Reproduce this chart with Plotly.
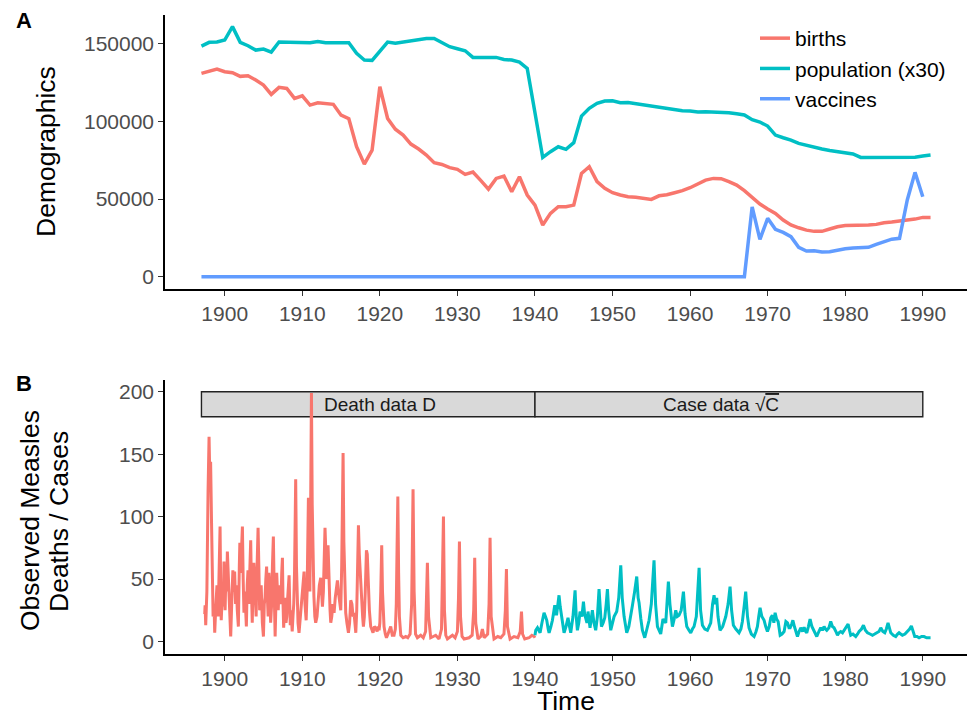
import plotly.graph_objects as go

# ---------------- Panel A data (annual) ----------------
years = list(range(1897, 1992))
births = [130.9, 132.4, 133.7, 132.0, 131.3, 129.0, 129.4, 126.6, 123.4, 117.4,
          121.9, 121.2, 114.8, 116.5, 110.5, 112.0, 111.6, 111.0, 104.0, 101.7,
          83.7, 72.5, 81.5, 122.3, 101.9, 95.0, 91.2, 85.4, 82.2, 78.3,
          73.4, 72.3, 70.2, 69.1, 65.9, 67.4, 62.0, 56.4, 63.3, 64.8,
          54.7, 64.4, 52.6, 46.1, 33.3, 40.8, 45.1, 45.1, 46.1, 66.5,
          70.8, 61.2, 56.9, 54.1, 52.6, 51.5, 51.1, 50.6, 49.8, 52.1,
          52.8, 54.1, 55.4, 57.3, 59.9, 62.2, 63.3, 63.1, 61.2, 59.0,
          55.4, 51.1, 46.8, 43.6, 40.8, 36.5, 33.3, 31.5, 30.0, 29.2,
          29.2, 30.7, 32.2, 33.0, 33.0, 33.0, 33.3, 33.7, 34.8, 35.2,
          35.8, 36.5, 37.1, 38.2, 38.2]
population_x30 = [148.5, 150.9, 151.1, 152.4, 161.0, 150.9, 148.7, 145.9, 146.6, 144.6,
                  151.1, 151.1, 151.1, 151.1, 150.6, 151.5, 150.6, 150.6, 150.6, 150.6,
                  143.8, 139.5, 139.3, 144.8, 151.1, 150.4, 151.1, 152.1, 152.6, 153.4,
                  153.4, 150.9, 148.1, 146.8, 145.5, 141.2, 141.2, 141.2, 141.2, 139.9,
                  139.5, 138.2, 134.1, 105.6, 76.8, 80.5, 83.7, 82.0, 86.3, 103.4,
                  108.4, 111.6, 113.1, 113.3, 112.0, 112.2, 111.4, 110.5, 109.7, 109.0,
                  108.2, 107.3, 106.9, 106.7, 106.0, 106.2, 106.0, 106.0, 105.6, 104.9,
                  104.1, 101.1, 99.6, 97.0, 91.2, 89.5, 88.0, 85.8, 84.5, 83.0,
                  82.2, 81.3, 80.5, 80.0, 79.0, 76.8, 76.8, 77.0, 77.3, 77.3,
                  77.0, 76.8, 77.0, 77.7, 78.3]
vacc_years = list(range(1897, 1991))
vaccines = [0.0] * 71 + [45.0, 24.0, 37.6, 30.5, 28.5, 25.8, 18.9, 16.5, 16.7, 15.9,
                         16.1, 17.2, 18.0, 18.5, 18.9, 18.9, 20.8, 22.7, 24.2, 24.7,
                         49.4, 67.2, 51.5]

# ---------------- Panel B data ----------------
death_obs = [
    (1897.42, 22), (1897.47, 29), (1897.55, 13), (1897.7, 40), (1897.85, 120), (1897.98, 164),
    (1898.08, 130), (1898.18, 144), (1898.3, 95), (1898.4, 60), (1898.5, 20), (1898.62, 30),
    (1898.71, 7), (1898.85, 28), (1899.0, 45), (1899.15, 20), (1899.28, 50), (1899.4, 92),
    (1899.5, 30), (1899.55, 17), (1899.7, 40), (1899.8, 28), (1899.91, 64), (1900.05, 25),
    (1900.15, 55), (1900.25, 40), (1900.34, 72), (1900.45, 50), (1900.55, 30), (1900.65, 15),
    (1900.77, 4), (1900.9, 30), (1901.05, 57), (1901.15, 40), (1901.28, 56), (1901.4, 30),
    (1901.5, 45), (1901.62, 25), (1901.76, 12), (1901.88, 60), (1901.95, 79), (1902.05, 55),
    (1902.18, 70), (1902.28, 92), (1902.38, 50), (1902.48, 23), (1902.6, 40), (1902.7, 30),
    (1902.79, 12), (1902.9, 45), (1903.0, 57), (1903.1, 30), (1903.22, 60), (1903.35, 81),
    (1903.45, 40), (1903.55, 15), (1903.65, 45), (1903.75, 63), (1903.85, 50), (1903.95, 35),
    (1904.05, 20), (1904.15, 55), (1904.3, 91), (1904.4, 60), (1904.5, 25), (1904.6, 35),
    (1904.7, 45), (1904.85, 15), (1904.99, 4), (1905.1, 30), (1905.2, 35), (1905.3, 50),
    (1905.4, 60), (1905.5, 35), (1905.6, 20), (1905.7, 55), (1905.8, 45), (1905.92, 15),
    (1906.05, 30), (1906.15, 60), (1906.27, 84), (1906.38, 40), (1906.5, 4), (1906.6, 30),
    (1906.7, 55), (1906.8, 40), (1906.9, 25), (1907.0, 45), (1907.1, 40), (1907.25, 30),
    (1907.35, 55), (1907.44, 67), (1907.52, 30), (1907.6, 11), (1907.7, 25), (1907.8, 35),
    (1907.9, 15), (1908.0, 20), (1908.12, 35), (1908.22, 45), (1908.3, 53), (1908.38, 30),
    (1908.45, 13), (1908.55, 25), (1908.62, 10), (1908.7, 8), (1908.8, 20), (1908.9, 30),
    (1909.0, 55), (1909.08, 90), (1909.15, 130), (1909.25, 60), (1909.35, 20), (1909.45, 15),
    (1909.58, 7), (1909.75, 20), (1909.95, 35), (1910.1, 45), (1910.23, 56), (1910.35, 30),
    (1910.5, 17), (1910.62, 40), (1910.72, 80), (1910.79, 115), (1910.88, 60), (1910.98, 40),
    (1911.08, 110), (1911.18, 199), (1911.28, 110), (1911.38, 60), (1911.5, 36), (1911.62, 20),
    (1911.73, 15), (1911.9, 20), (1912.05, 35), (1912.2, 45), (1912.38, 51), (1912.5, 40),
    (1912.6, 28), (1912.72, 40), (1912.85, 80), (1912.93, 91), (1913.05, 70), (1913.15, 50),
    (1913.32, 77), (1913.45, 45), (1913.58, 25), (1913.67, 15), (1913.8, 20), (1913.95, 30),
    (1914.1, 23), (1914.25, 35), (1914.4, 45), (1914.53, 49), (1914.65, 40), (1914.8, 30),
    (1914.96, 25), (1915.08, 60), (1915.18, 120), (1915.26, 151), (1915.36, 80), (1915.48, 35),
    (1915.6, 23), (1915.75, 15), (1915.95, 7), (1916.1, 15), (1916.25, 33), (1916.4, 30),
    (1916.55, 20), (1916.67, 23), (1916.8, 12), (1916.9, 7), (1917.02, 25), (1917.12, 60),
    (1917.24, 93), (1917.35, 70), (1917.45, 55), (1917.53, 44), (1917.65, 30), (1917.78, 20),
    (1917.88, 12), (1918.0, 20), (1918.12, 40), (1918.2, 60), (1918.27, 73), (1918.38, 70),
    (1918.53, 44), (1918.65, 25), (1918.82, 12), (1918.95, 10), (1919.12, 7), (1919.3, 12),
    (1919.47, 11), (1919.65, 8), (1919.8, 12), (1919.9, 9), (1920.0, 15), (1920.12, 40),
    (1920.24, 77), (1920.34, 40), (1920.44, 20), (1920.54, 12), (1920.7, 6), (1920.85, 3),
    (1921.05, 6), (1921.2, 8), (1921.4, 12), (1921.6, 5), (1921.83, 5), (1922.0, 10),
    (1922.12, 30), (1922.22, 75), (1922.32, 116), (1922.42, 55), (1922.52, 20), (1922.7, 5),
    (1923.0, 3), (1923.34, 4), (1923.6, 3), (1923.9, 6), (1924.1, 30), (1924.28, 122),
    (1924.42, 40), (1924.6, 6), (1924.84, 3), (1925.27, 5), (1925.6, 3), (1925.9, 8),
    (1926.0, 25), (1926.13, 63), (1926.28, 20), (1926.56, 3), (1927.2, 5), (1927.63, 2),
    (1927.95, 10), (1928.08, 45), (1928.2, 100), (1928.33, 25), (1928.5, 5), (1928.71, 2),
    (1929.36, 5), (1929.7, 3), (1930.0, 8), (1930.14, 35), (1930.26, 80), (1930.4, 20),
    (1930.6, 4), (1930.86, 2), (1931.5, 3), (1931.9, 5), (1932.1, 25), (1932.23, 67),
    (1932.36, 15), (1932.66, 2), (1933.0, 4), (1933.22, 10), (1933.45, 3), (1933.9, 6),
    (1934.08, 30), (1934.21, 83), (1934.35, 20), (1934.72, 2), (1935.2, 4), (1935.59, 3),
    (1936.0, 6), (1936.18, 25), (1936.32, 58), (1936.45, 12), (1936.79, 2), (1937.3, 4),
    (1937.8, 3), (1938.1, 8), (1938.26, 24), (1938.4, 6), (1938.68, 2), (1939.24, 3),
    (1939.6, 5), (1939.9, 4), (1940.0, 3),
]
case_obs = [
    (1940.0, 5), (1940.1, 9), (1940.32, 11), (1940.5, 8), (1940.66, 7), (1940.9, 15),
    (1941.17, 23), (1941.35, 20), (1941.52, 17), (1941.7, 10), (1941.82, 7), (1942.05, 12),
    (1942.25, 17), (1942.55, 29), (1942.68, 22), (1942.8, 22), (1943.1, 37), (1943.25, 28),
    (1943.41, 20), (1943.6, 10), (1943.75, 7), (1944.0, 12), (1944.26, 19), (1944.45, 12),
    (1944.61, 7), (1944.9, 20), (1945.17, 41), (1945.32, 20), (1945.47, 9), (1945.65, 15),
    (1945.81, 24), (1946.05, 20), (1946.25, 32), (1946.4, 22), (1946.54, 19), (1946.7, 15),
    (1946.84, 24), (1947.1, 11), (1947.4, 25), (1947.6, 15), (1947.83, 9), (1948.05, 20),
    (1948.26, 42), (1948.4, 25), (1948.57, 12), (1948.8, 15), (1949.0, 19), (1949.18, 30),
    (1949.34, 42), (1949.5, 25), (1949.77, 9), (1950.0, 15), (1950.2, 20), (1950.54, 24),
    (1950.8, 35), (1951.06, 61), (1951.25, 35), (1951.49, 20), (1951.83, 7), (1952.1, 12),
    (1952.35, 20), (1952.57, 29), (1952.85, 40), (1953.12, 52), (1953.3, 35), (1953.42, 31),
    (1953.65, 18), (1953.85, 9), (1954.15, 3), (1954.45, 10), (1954.71, 17), (1955.0, 30),
    (1955.35, 65), (1955.55, 30), (1955.79, 12), (1956.21, 6), (1956.5, 18), (1956.86, 15),
    (1957.05, 30), (1957.2, 48), (1957.4, 30), (1957.72, 12), (1957.95, 18), (1958.15, 25),
    (1958.35, 20), (1958.57, 21), (1958.85, 25), (1959.14, 40), (1959.35, 22), (1959.57, 12),
    (1959.85, 9), (1960.08, 7), (1960.3, 10), (1960.51, 12), (1960.8, 20), (1961.0, 40),
    (1961.16, 59), (1961.35, 25), (1961.59, 13), (1961.9, 10), (1962.23, 9), (1962.45, 12),
    (1962.66, 15), (1962.9, 30), (1963.09, 37), (1963.25, 30), (1963.43, 35), (1963.6, 20),
    (1963.86, 9), (1964.2, 12), (1964.6, 20), (1964.9, 30), (1965.15, 44), (1965.35, 25),
    (1965.58, 13), (1965.9, 10), (1966.31, 7), (1966.55, 10), (1966.74, 16), (1967.0, 30),
    (1967.17, 40), (1967.4, 20), (1967.6, 11), (1967.9, 6), (1968.25, 4), (1968.5, 8),
    (1968.68, 12), (1968.85, 20), (1969.02, 27), (1969.25, 20), (1969.54, 17), (1969.75, 12),
    (1969.97, 8), (1970.2, 12), (1970.4, 19), (1970.6, 21), (1970.8, 15), (1970.96, 23),
    (1971.15, 18), (1971.35, 16), (1971.61, 5), (1971.85, 6), (1972.12, 8), (1972.35, 16),
    (1972.56, 15), (1972.75, 11), (1972.9, 11), (1973.1, 14), (1973.25, 17), (1973.45, 12),
    (1973.65, 8), (1973.84, 4), (1974.05, 8), (1974.27, 11), (1974.5, 8), (1974.7, 11.5),
    (1974.9, 8), (1975.04, 7), (1975.25, 12), (1975.47, 18), (1975.7, 12), (1975.9, 9),
    (1976.1, 6), (1976.33, 4), (1976.6, 8), (1976.84, 11), (1977.05, 9), (1977.27, 12),
    (1977.45, 10), (1977.62, 9), (1977.9, 11), (1978.13, 16), (1978.35, 12), (1978.56, 11),
    (1978.8, 8), (1979.0, 5), (1979.2, 7), (1979.42, 8), (1979.65, 7), (1979.85, 9),
    (1980.1, 11), (1980.37, 14), (1980.55, 9), (1980.71, 5), (1981.0, 6), (1981.2, 5),
    (1981.36, 4), (1981.6, 6), (1981.79, 8), (1982.1, 10), (1982.35, 13), (1982.6, 9),
    (1982.87, 7), (1983.2, 6), (1983.51, 5), (1983.8, 6), (1984.07, 7), (1984.35, 8),
    (1984.58, 11), (1984.85, 8), (1985.1, 7), (1985.3, 10), (1985.52, 15), (1985.7, 10),
    (1985.87, 7), (1986.2, 5), (1986.51, 4), (1986.75, 6), (1986.94, 7), (1987.15, 6),
    (1987.37, 5), (1987.7, 6), (1988.02, 8), (1988.3, 10), (1988.53, 12.5), (1988.75, 7),
    (1988.96, 4), (1989.25, 4), (1989.52, 3), (1989.85, 4), (1990.16, 4), (1990.5, 3),
    (1990.8, 3), (1991.0, 3),
]
strip_labels = ["Death data D", "Case data √<span style='text-decoration:overline'>C</span>"]
strip_ranges = [(1897, 1940), (1940, 1990)]
strip_label_x = [1920, 1964]

RED = "#F8766D"
TEAL = "#00BFC4"
BLUE = "#619CFF"
FONT = "Liberation Sans, Arial, sans-serif"

fig = go.Figure()
fig.add_trace(go.Scatter(x=years, y=[b * 1000 for b in births], mode="lines", name="births",
                         line=dict(color=RED, width=3.5), xaxis="x", yaxis="y"))
fig.add_trace(go.Scatter(x=years, y=[p * 1000 for p in population_x30], mode="lines",
                         name="population (x30)", line=dict(color=TEAL, width=3.5),
                         xaxis="x", yaxis="y"))
fig.add_trace(go.Scatter(x=vacc_years, y=[v * 1000 for v in vaccines], mode="lines",
                         name="vaccines", line=dict(color=BLUE, width=3.5),
                         xaxis="x", yaxis="y"))

fig.add_trace(go.Scatter(x=[t for t, _ in death_obs], y=[v for _, v in death_obs],
                         mode="lines", line=dict(color=RED, width=3.0), showlegend=False,
                         xaxis="x2", yaxis="y2"))
fig.add_trace(go.Scatter(x=[t for t, _ in case_obs], y=[v for _, v in case_obs],
                         mode="lines", line=dict(color=TEAL, width=3.0), showlegend=False,
                         xaxis="x2", yaxis="y2"))

# strips in panel B
for (x0, x1) in strip_ranges:
    fig.add_shape(type="rect", xref="x2", yref="y2", x0=x0, x1=x1, y0=180, y1=200,
                  fillcolor="#D9D9D9", line=dict(color="#222222", width=1.4), layer="below")

annotations = []
for lab, lx in zip(strip_labels, strip_label_x):
    annotations.append(dict(x=lx, y=190, xref="x2", yref="y2", text=lab, showarrow=False,
                            font=dict(size=19, color="#1A1A1A", family=FONT)))

H, W = 715, 969
top, bottom = 15, 61
ph = H - top - bottom


def py(pix):
    return (H - bottom - pix) / ph


def px(pix):
    return (pix - 165) / (W - 165 - 2)


annotations += [
    dict(text="<b>A</b>", x=px(24), y=py(20), xref="paper", yref="paper", showarrow=False,
         font=dict(size=22, color="black", family=FONT), xanchor="center", yanchor="middle"),
    dict(text="<b>B</b>", x=px(24), y=py(383), xref="paper", yref="paper", showarrow=False,
         font=dict(size=22, color="black", family=FONT), xanchor="center", yanchor="middle"),
    dict(text="Demographics", x=px(46), y=py(152), xref="paper", yref="paper",
         showarrow=False, textangle=-90, font=dict(size=26.5, color="black", family=FONT),
         xanchor="center", yanchor="middle"),
    dict(text="Observed Measles", x=px(30), y=py(521), xref="paper", yref="paper",
         showarrow=False, textangle=-90, font=dict(size=26.5, color="black", family=FONT),
         xanchor="center", yanchor="middle"),
    dict(text="Deaths / Cases", x=px(59), y=py(521), xref="paper", yref="paper",
         showarrow=False, textangle=-90, font=dict(size=26.5, color="black", family=FONT),
         xanchor="center", yanchor="middle"),
    dict(text="Time", x=px(566), y=py(701), xref="paper", yref="paper", showarrow=False,
         font=dict(size=26.5, color="black", family=FONT), xanchor="center",
         yanchor="middle"),
]

axis_common = dict(showline=True, linecolor="black", linewidth=1.5, ticks="outside",
                   ticklen=5, tickwidth=1.3, tickcolor="#333333", showgrid=False,
                   zeroline=False, tickfont=dict(size=21, color="#4D4D4D", family=FONT))

fig.update_layout(
    width=W, height=H,
    margin=dict(l=165, r=2, t=top, b=bottom),
    paper_bgcolor="white", plot_bgcolor="white",
    font=dict(family=FONT),
    xaxis=dict(domain=[0, 1], range=[1892.3, 1995.7], anchor="y",
               tickvals=list(range(1900, 1991, 10)), **axis_common),
    yaxis=dict(domain=[py(289), 1], range=[-7900, 168500], anchor="x",
               tickvals=[0, 50000, 100000, 150000], tickformat="d", **axis_common),
    xaxis2=dict(domain=[0, 1], range=[1892.3, 1995.7], anchor="y2",
                tickvals=list(range(1900, 1991, 10)), **axis_common),
    yaxis2=dict(domain=[0, py(380)], range=[-10, 209.4], anchor="x2",
                tickvals=[0, 50, 100, 150, 200], **axis_common),
    legend=dict(x=px(755), y=py(18), xanchor="left", yanchor="top", bgcolor="rgba(0,0,0,0)",
                font=dict(size=21, color="black", family=FONT), tracegroupgap=0),
    annotations=annotations,
    showlegend=True,
)

fig.write_html("out.html")
